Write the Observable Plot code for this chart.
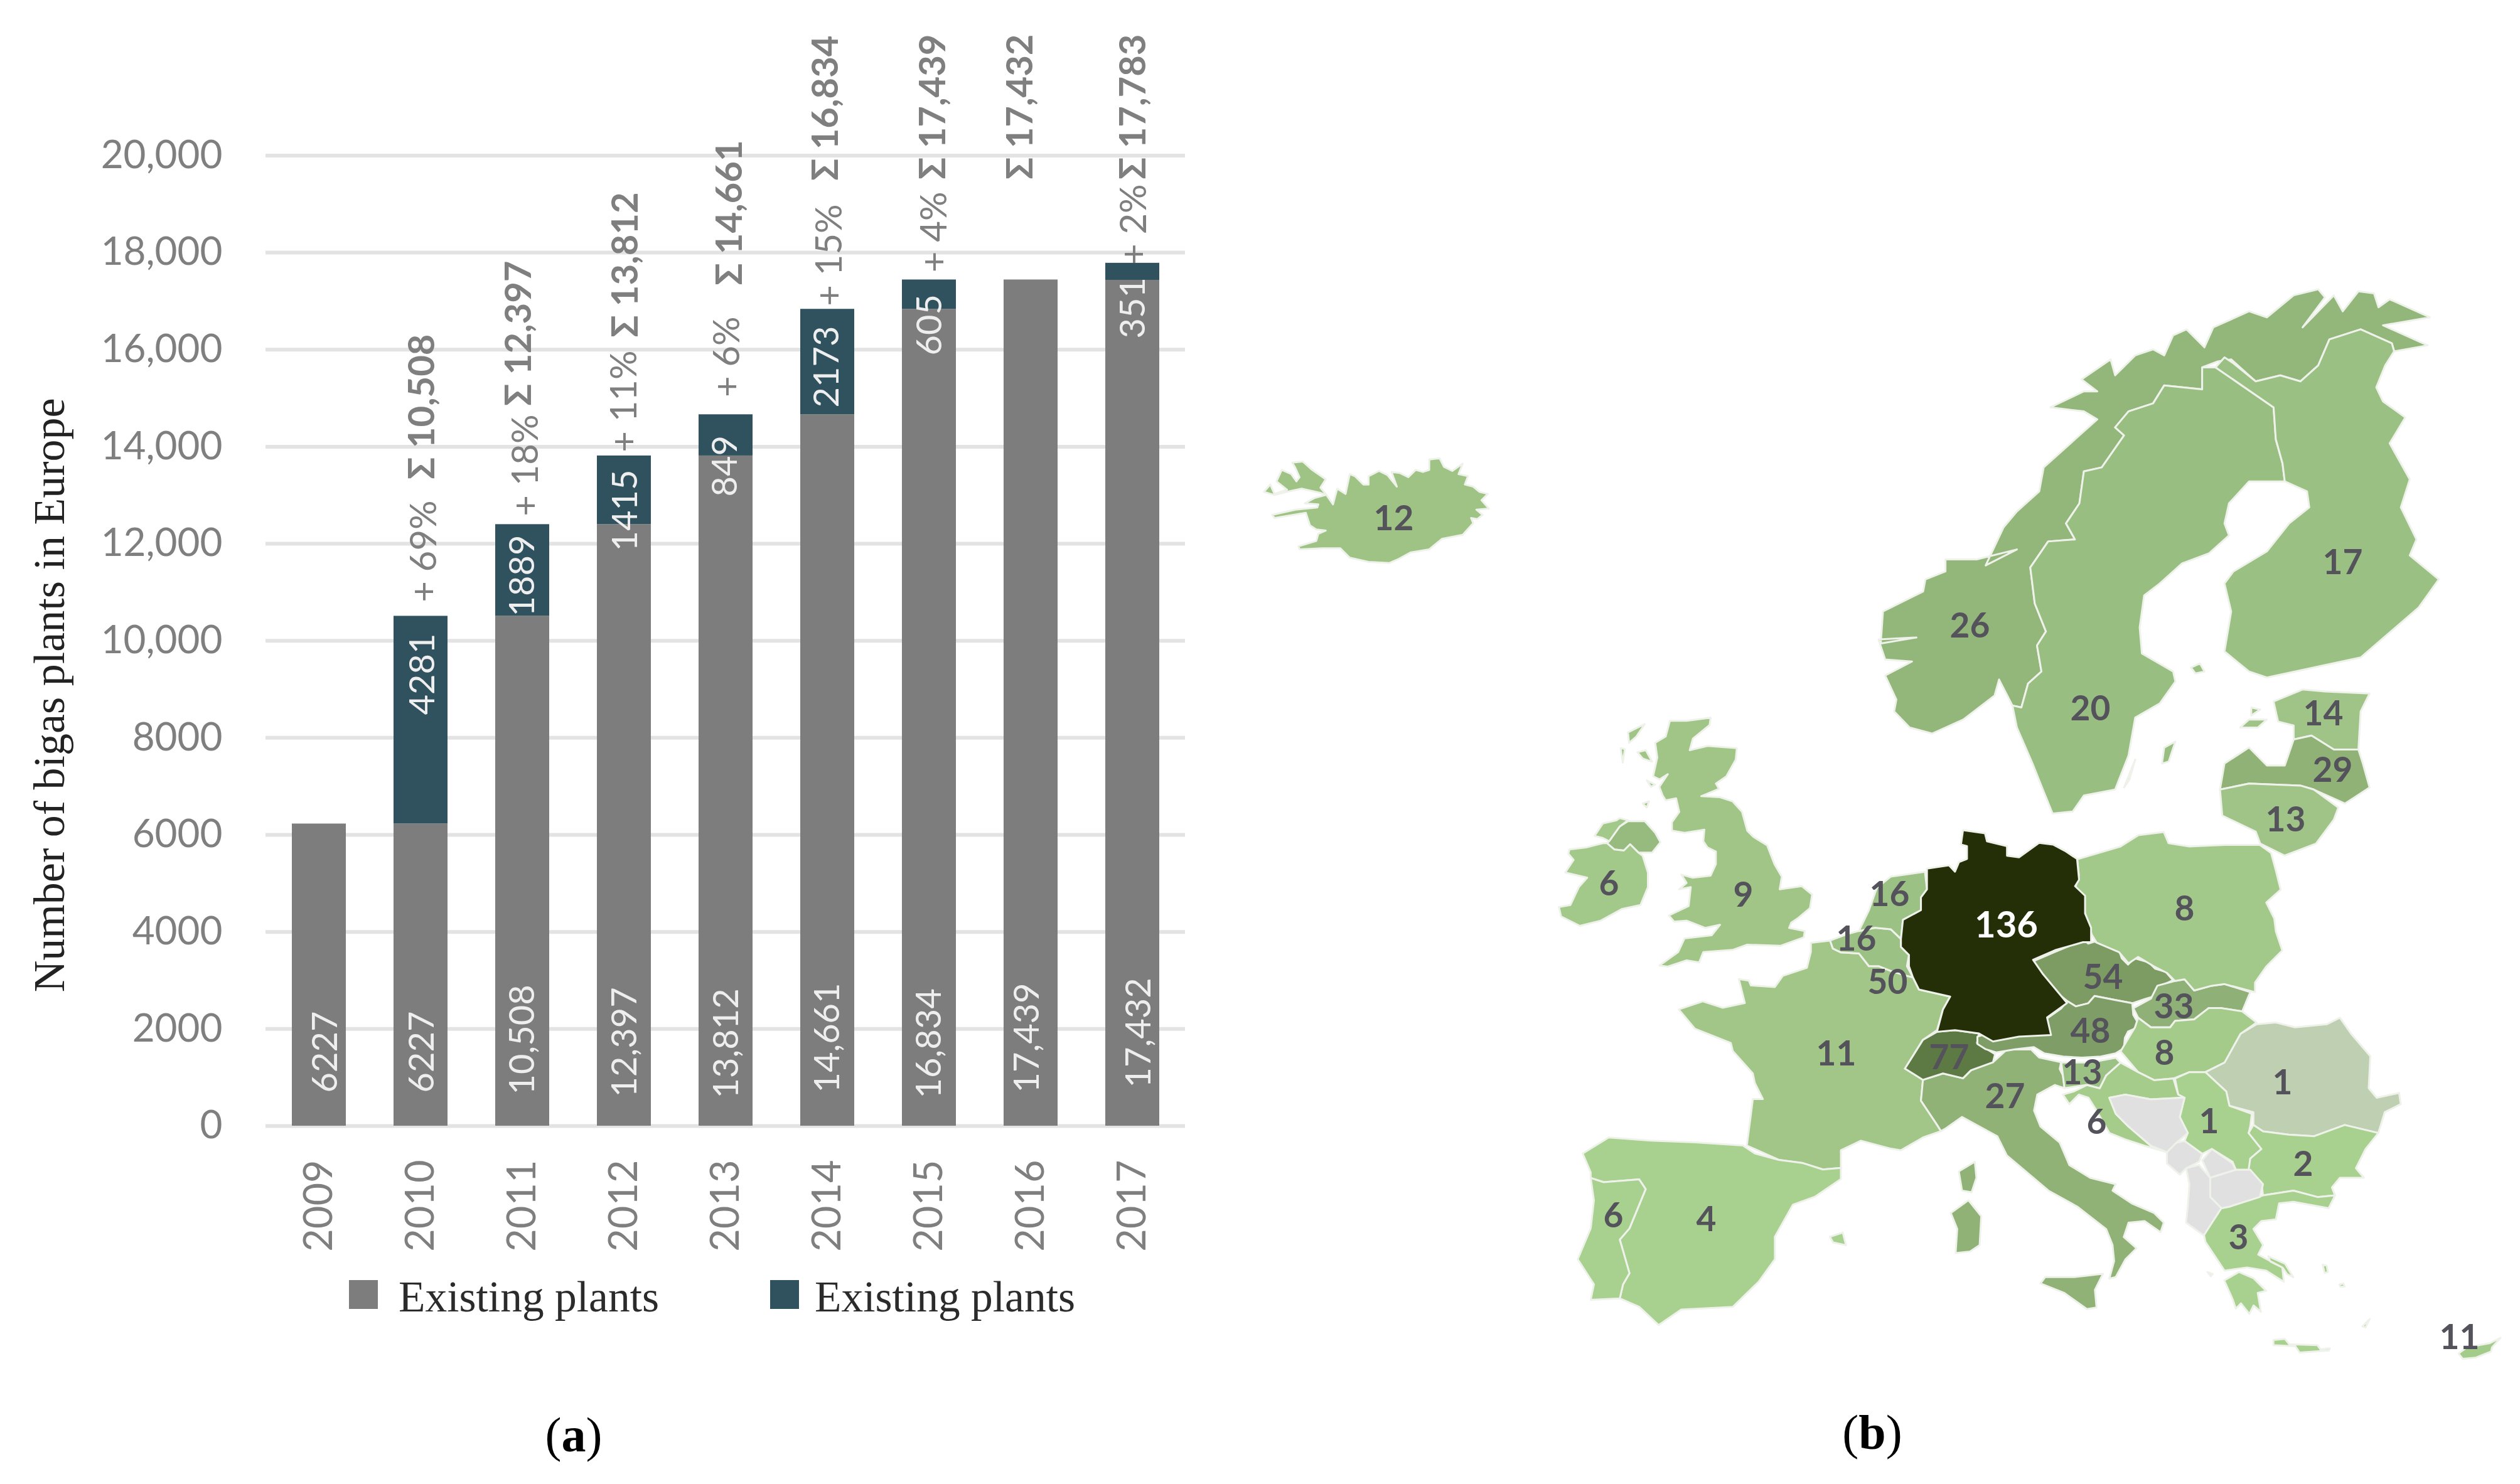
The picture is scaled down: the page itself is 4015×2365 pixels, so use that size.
<!DOCTYPE html>
<html>
<head>
<meta charset="utf-8">
<script src="https://cdn.jsdelivr.net/npm/d3@7"></script>
<script src="https://cdn.jsdelivr.net/npm/@observablehq/plot@0.6"></script>
<style>
html,body{margin:0;padding:0;background:#fff}
#page{position:relative;width:4015px;height:2365px;overflow:hidden;background:#fff}
#bars{position:absolute;left:0;top:0}
#map{position:absolute;left:1950px;top:380px}
.legend{position:absolute;font-family:"Liberation Serif",serif;font-size:69.5px;color:#2b2b2b;line-height:1;white-space:nowrap}
.swatch{position:absolute;width:46px;height:46px}
.cap{position:absolute;font-family:"Liberation Serif",serif;font-size:78px;color:#000;line-height:1;white-space:nowrap;transform:translateX(-50%)}
</style>
</head>
<body>
<div id="page">
  <div id="bars"></div>
  <div id="map"></div>
  <div class="swatch" style="left:556px;top:2040px;background:#7d7d7d"></div>
  <div class="legend" style="left:635px;top:2032px">Existing plants</div>
  <div class="swatch" style="left:1227px;top:2040px;background:#30525f"></div>
  <div class="legend" style="left:1298px;top:2032px">Existing plants</div>
  <div class="cap" style="left:914px;top:2248px">(<b>a</b>)</div>
  <div class="cap" style="left:2983px;top:2244px">(<b>b</b>)</div>
</div>
<script>
// ---------- Bar chart data ----------
const years = ["2009","2010","2011","2012","2013","2014","2015","2016","2017"];
const existing = [6227,6227,10508,12397,13812,14661,16834,17439,17432];
const added = [0,4281,1889,1415,849,2173,605,0,351];
const existingText = ["6227","6227","10,508","12,397","13,812","14,661","16,834","17,439","17,432"];
const addedYears = ["2010","2011","2012","2013","2014","2015","2017"];
const addedText = ["4281","1889","1415","849","2173","605","351"];
const percentText = ["+ 69%","+ 18%","+ 11%","+ 6%","+ 15%","+ 4%","+ 2%"];
const totalYears = ["2010","2011","2012","2013","2014","2015","2016","2017"];
const totalText = ["Σ 10,508","Σ 12,397","Σ 13,812","Σ 14,661","Σ 16,834","Σ 17,439","Σ 17,432","Σ 17,783"];
const yTicks = [0,2000,4000,6000,8000,10000,12000,14000,16000,18000,20000];
const yTickText = ["0","2000","4000","6000","8000","10,000","12,000","14,000","16,000","18,000","20,000"];

// where each label sits, in chart units, and its sideways nudge
const existingAt = [685,685,647,595,569,685,569,685,789];
const existingNudge = [11,3,1,2,2,1,1,-5,11];
const addedAt = [8470,10500,11845,12970,14807,15880,16229];
const addedNudge = [4,1,3,0,0,2,2];
const percentAt = [12893,14664,15983,16682,18997,19255,19411];
const percentNudge = [6,6,1,3,4,9,3];
const totalAt = [16320,17833,19243,20316,22475,22501,22501,22501];
const totalNudge = [3,-5,3,7,-2,7,-16,2];

const stacked = [
  ...years.map((year,i)=>({year,kind:"Existing",value:existing[i]})),
  ...years.map((year,i)=>({year,kind:"Added",value:added[i]}))
];
const label = (x,y,text,dx,o) => Plot.text([0],{x:()=>x,y:()=>y,text:()=>text,dx,rotate:-90,lineAnchor:"middle",...o});
const grey="#7f7f7f", light="#eeeeee";

const bars = Plot.plot({
  width:1950,height:2030,marginLeft:423,marginRight:62,marginTop:247.4,marginBottom:236,
  style:{fontFamily:"Lato, sans-serif",background:"transparent"},
  x:{domain:years,paddingInner:0.47,paddingOuter:0.235,label:null},
  y:{domain:[0,20000],label:null},
  color:{domain:["Existing","Added"],range:["#7d7d7d","#30525f"]},
  marks:[
    Plot.ruleY(yTicks,{stroke:"#e3e3e3",strokeWidth:6}),
    Plot.barY(stacked,{x:"year",y:"value",fill:"kind"}),
    Plot.axisX({tickRotate:-90,tickSize:0,tickPadding:54,fontSize:63,fill:grey,label:null}),
    Plot.axisY({ticks:yTicks,tickFormat:d=>yTickText[yTicks.indexOf(d)],tickSize:0,tickPadding:69,fontSize:62,fill:grey,label:null}),
    Plot.text(["Number of bigas plants in Europe"],{frameAnchor:"left",y:()=>8880,dx:-344,text:d=>d,rotate:-90,lineAnchor:"middle",textAnchor:"middle",fontFamily:"Liberation Serif, serif",fontSize:70,fill:"#222"}),
    ...years.map((y,i)=>label(y,existingAt[i],existingText[i],existingNudge[i],{textAnchor:"start",fontSize:56,fill:light})),
    ...addedYears.map((y,i)=>label(y,addedAt[i],addedText[i],addedNudge[i],{textAnchor:"start",fontSize:56,fill:light})),
    ...addedYears.map((y,i)=>label(y,percentAt[i],percentText[i],percentNudge[i],{textAnchor:"end",fontSize:58,fill:grey})),
    ...totalYears.map((y,i)=>label(y,totalAt[i],totalText[i],totalNudge[i],{textAnchor:"end",fontSize:58,fontWeight:700,fill:grey}))
  ]
});
document.getElementById("bars").append(bars);

// ---------- Map data: outlines ----------
const crop=(x0,y0,kx,ky)=>pts=>pts.map(([x,y])=>[x0+x/kx,y0+y/ky]);
const A=crop(2400,1200,1.568,1.96), B=crop(2900,400,1.406,1.568), C=crop(2400,1600,0.971,2.24),
      D=crop(3100,1300,1.96,1.96), G=crop(3100,1300,3,3), I=crop(1980,680,3,3), U=crop(2440,1120,3,3), S=crop(3500,2000,3,3);

const iceland = I([[100,310],[130,275],[150,320],[210,300],[160,260],[185,205],[230,225],[255,260],[270,240],[250,195],[235,170],[285,165],[330,205],[395,250],[370,290],[395,320],[430,370],[450,295],[490,320],[510,225],[535,235],[575,275],[600,275],[600,235],[650,210],[690,230],[735,285],[710,215],[750,220],[790,240],[825,205],[860,215],[890,205],[890,155],[940,150],[960,190],[1000,210],[1050,175],[1030,225],[1075,235],[1060,275],[1100,285],[1130,310],[1170,320],[1140,350],[1175,390],[1115,395],[1145,420],[1120,440],[1090,435],[1100,460],[1050,515],[950,535],[890,585],[800,600],[745,630],[700,650],[600,645],[510,625],[465,580],[380,580],[270,585],[265,570],[350,545],[360,510],[395,495],[350,490],[320,470],[300,410],[150,435],[140,420],[250,395],[355,385],[360,370],[295,365],[340,340],[395,325],[370,315],[280,295],[210,310],[150,325]]);
const norway = B([[130,970],[215,965],[135,980],[140,900],[230,850],[235,820],[280,800],[280,770],[350,770],[440,745],[370,785],[410,690],[440,650],[490,600],[500,540],[570,470],[620,420],[590,400],[515,390],[590,350],[620,350],[585,320],[650,270],[660,310],[705,260],[745,245],[770,260],[790,210],[820,195],[860,240],[880,190],[960,150],[1000,165],[1060,110],[1115,95],[1130,115],[1080,190],[1150,110],[1170,150],[1205,100],[1240,105],[1250,140],[1275,120],[1365,165],[1260,185],[1360,235],[1285,250],[1280,230],[1210,195],[1140,220],[1115,285],[1075,325],[1030,310],[975,325],[920,270],[890,275],[855,290],[855,345],[770,335],[745,380],[690,400],[660,440],[680,460],[630,540],[590,550],[580,630],[550,680],[570,720],[510,725],[470,790],[480,880],[505,950],[485,985],[495,1050],[465,1080],[450,1140],[430,1135],[400,1070],[390,1110],[320,1170],[250,1205],[200,1190],[165,1150],[170,1120],[145,1060],[205,1025],[145,1020]]);
const sweden = B([[430,1135],[450,1140],[465,1080],[495,1050],[485,985],[505,950],[480,880],[470,790],[510,725],[570,720],[550,680],[580,630],[590,550],[630,540],[680,460],[660,440],[690,400],[745,380],[770,335],[855,345],[855,290],[885,290],[1015,390],[1020,470],[1035,530],[1040,575],[960,575],[915,630],[905,680],[915,710],[870,755],[810,780],[760,830],[725,860],[715,940],[720,1005],[790,1050],[795,1075],[760,1130],[705,1165],[690,1260],[660,1345],[590,1360],[565,1400],[520,1405],[500,1350],[475,1280],[440,1190]]);
const gotland = B([[765,1280],[770,1240],[795,1225],[780,1275]]);
const oland = B([[680,1340],[705,1270],[692,1320]]);
const finland = B([[885,290],[905,265],[925,280],[975,325],[1030,310],[1075,325],[1115,285],[1140,220],[1210,195],[1280,230],[1285,250],[1265,285],[1245,340],[1260,375],[1310,415],[1275,480],[1320,570],[1300,640],[1335,720],[1320,760],[1385,820],[1340,890],[1210,1015],[1000,1065],[960,1050],[905,1000],[920,900],[905,830],[925,800],[1000,750],[1050,680],[1095,640],[1090,600],[1040,575],[1035,530],[1020,470],[1015,390]]);
const aland = B([[830,1040],[850,1030],[860,1050],[840,1055]]);
const estonia = B([[1015,1125],[1080,1095],[1130,1100],[1230,1105],[1210,1150],[1205,1245],[1150,1245],[1100,1210],[1060,1220],[1060,1185],[1025,1175]]);
const saaremaa = B([[940,1190],[960,1170],[1000,1170],[980,1190]]);
const hiiumaa = B([[965,1140],[985,1145],[965,1160]]);
const latvia = B([[895,1345],[905,1280],[960,1240],[1000,1285],[1040,1285],[1060,1220],[1100,1210],[1150,1245],[1205,1245],[1215,1280],[1230,1340],[1175,1380],[1105,1345],[1075,1335],[960,1330]]);
const lithuania = B([[895,1345],[960,1330],[1075,1335],[1105,1345],[1160,1390],[1150,1420],[1110,1480],[1040,1510],[985,1480],[975,1450],[900,1410]]);
const britain = U([[610,1255],[700,1190],[730,1125],[860,1110],[900,1060],[830,1075],[740,1040],[680,1045],[655,1015],[750,970],[760,880],[705,890],[740,860],[715,820],[770,835],[855,825],[880,770],[880,710],[840,690],[820,660],[825,605],[730,620],[670,610],[670,570],[705,520],[690,455],[640,465],[625,440],[610,400],[650,340],[610,365],[580,350],[600,260],[590,190],[640,160],[660,85],[740,85],[855,70],[850,105],[770,170],[755,225],[840,205],[980,215],[975,270],[930,350],[880,385],[895,410],[810,445],[900,450],[960,470],[1005,520],[1030,610],[1060,640],[1125,680],[1160,770],[1195,830],[1185,890],[1290,875],[1340,915],[1330,980],[1270,1030],[1240,1050],[1230,1075],[1305,1090],[1300,1120],[1190,1160],[1030,1155],[960,1180],[820,1190],[800,1240],[740,1230],[650,1260]]);
const lewis = U([[460,140],[540,100],[500,160],[465,190]]);
const uist = U([[425,215],[445,220],[435,285]]);
const skye = U([[505,235],[545,225],[575,280],[530,265]]);
const mull = U([[550,370],[590,390],[570,400]]);
const islay = U([[530,480],[560,470],[550,500]]);
const northIreland = U([[370,660],[420,590],[460,565],[540,565],[590,620],[615,665],[575,715],[510,715],[470,675],[440,705],[395,700],[360,670]]);
const ireland = U([[180,700],[260,690],[340,670],[360,670],[395,700],[440,705],[470,675],[510,715],[530,730],[555,810],[555,880],[520,965],[430,985],[330,1040],[230,1065],[140,1020],[130,975],[185,965],[225,880],[265,835],[160,810],[200,750],[175,720]]);
const donegal = U([[300,635],[340,575],[405,560],[420,550],[460,560],[420,590],[370,660],[340,645]]);
const france = A([[760,592],[808,585],[815,610],[835,622],[880,625],[905,665],[930,665],[960,680],[1000,695],[1015,700],[1030,738],[1108,760],[1090,800],[1075,865],[1040,895],[995,985],[1040,1020],[1035,1085],[1075,1160],[1085,1180],[1040,1200],[985,1240],[960,1235],[885,1210],[835,1240],[835,1295],[790,1300],[740,1280],[680,1270],[600,1225],[610,1130],[615,1080],[640,1080],[620,1030],[615,1000],[565,930],[560,905],[470,860],[430,800],[490,775],[540,795],[595,780],[580,705],[605,710],[610,725],[670,730],[690,695],[750,670],[760,620]]);
const belgium = A([[808,585],[850,565],[880,555],[920,545],[960,550],[985,580],[985,605],[1005,630],[1000,665],[1015,700],[1000,695],[960,680],[930,665],[905,665],[880,625],[835,622],[815,610]]);
const netherlands = A([[880,555],[905,490],[925,420],[960,385],[1045,370],[1050,425],[1035,450],[1035,490],[990,520],[985,580],[960,550],[920,545]]);
const germany = A([[1050,360],[1105,350],[1120,370],[1130,340],[1150,330],[1150,290],[1135,285],[1140,240],[1195,250],[1200,275],[1250,290],[1250,320],[1280,325],[1330,280],[1365,285],[1395,305],[1425,330],[1430,395],[1420,415],[1445,445],[1445,500],[1460,545],[1460,590],[1440,590],[1370,615],[1315,645],[1340,690],[1400,780],[1350,825],[1360,880],[1280,885],[1215,900],[1180,875],[1120,865],[1075,870],[1090,800],[1108,760],[1030,738],[1015,700],[1005,665],[1005,630],[985,605],[985,580],[990,520],[1035,490],[1035,450],[1050,425]]);
const switzerland = A([[995,985],[1040,895],[1075,870],[1120,865],[1180,875],[1175,905],[1220,940],[1215,965],[1160,990],[1140,1015],[1090,1000],[1040,1020]]);
const czechia = G([[415,695],[520,650],[640,600],[655,590],[680,610],[710,600],[830,650],[840,680],[870,710],[900,680],[970,700],[1000,730],[1050,745],[1085,785],[1030,810],[1000,860],[950,875],[890,895],[810,880],[710,860],[680,895],[620,910],[580,885],[500,820],[440,760],[430,710]]);
const austria = G([[150,1055],[180,1045],[230,1060],[240,1045],[330,1040],[420,1020],[495,1040],[480,970],[550,920],[580,885],[620,910],[680,895],[710,860],[810,880],[890,895],[895,950],[915,985],[905,1015],[870,1030],[855,1060],[850,1110],[810,1135],[740,1150],[650,1155],[560,1150],[470,1135],[420,1105],[330,1115],[240,1130],[190,1115],[150,1090]]);
const slovakia = D([[585,600],[640,570],[660,530],[715,515],[745,510],[775,545],[830,530],[870,525],[950,550],[925,610],[860,600],[820,600],[775,635],[715,640],[700,660],[640,660],[600,630]]);
const poland = D([[410,135],[545,95],[600,60],[680,50],[695,85],[760,95],[870,90],[980,90],[1015,115],[1030,170],[1045,230],[1000,270],[1025,320],[1030,360],[1050,420],[1000,470],[965,520],[965,550],[870,525],[830,530],[775,545],[745,510],[715,515],[690,490],[650,470],[600,440],[570,460],[540,425],[470,395],[455,370],[430,290],[405,220],[415,185]]);
const hungary = D([[545,735],[590,660],[600,630],[640,660],[700,660],[715,640],[775,635],[820,600],[860,600],[925,610],[970,645],[920,680],[870,770],[810,800],[760,800],[710,820],[650,825],[600,800]]);
const romania = D([[970,650],[1030,645],[1090,660],[1140,655],[1190,650],[1230,630],[1265,680],[1325,750],[1320,850],[1345,880],[1415,865],[1420,900],[1370,925],[1350,990],[1245,965],[1150,1000],[1070,995],[990,985],[960,965],[960,925],[885,905],[875,860],[810,800],[870,770],[920,680]]);
const serbia = D([[715,820],[760,800],[810,800],[875,860],[885,905],[955,930],[950,970],[945,990],[985,1040],[950,1070],[950,1105],[905,1105],[895,1080],[830,1040],[800,1055],[745,1015],[755,990],[730,940],[745,880],[725,870]]);
const bulgaria = D([[960,965],[990,985],[1070,995],[1150,1000],[1245,965],[1350,990],[1310,1040],[1280,1100],[1305,1130],[1230,1130],[1205,1160],[1215,1185],[1160,1190],[1085,1170],[990,1185],[985,1145],[945,1105],[950,1070],[985,1040],[945,990]]);
const greece = D([[830,1225],[860,1225],[885,1220],[990,1185],[1085,1170],[1160,1190],[1215,1185],[1195,1225],[1085,1205],[1040,1210],[1030,1260],[985,1265],[960,1290],[990,1340],[975,1370],[1050,1410],[1055,1455],[1000,1420],[940,1410],[870,1420],[810,1330],[805,1305],[850,1240]]);
const peloponnese = S([[130,120],[200,80],[270,110],[330,170],[290,180],[305,270],[270,240],[250,280],[210,230],[185,255],[170,210]]);
const crete = S([[365,405],[420,400],[440,425],[575,430],[590,450],[635,445],[630,455],[490,465],[470,435],[365,430]]);
const cyprus = S([[1250,470],[1290,440],[1400,420],[1450,395],[1410,440],[1405,460],[1330,490],[1270,495]]);
const evia = S([[340,5],[420,40],[460,105],[430,90],[410,60],[350,30]]);
const lesbos = S([[600,45],[620,50],[625,80],[610,85]]);
const rhodes = S([[790,340],[825,305],[805,345]]);
const chios = S([[680,140],[700,135],[705,150],[685,150]]);
const lefkada = S([[50,80],[75,90],[65,100]]);
const bosnia = D([[510,880],[560,870],[640,885],[730,880],[745,880],[730,940],[755,990],[720,1020],[690,1050],[640,1030],[570,970],[530,930]]);
const montenegro = D([[690,1050],[720,1020],[745,1015],[800,1055],[790,1080],[750,1100],[730,1120],[690,1085]]);
const kosovo = D([[800,1075],[830,1040],[895,1085],[905,1105],[840,1125],[825,1130]]);
const macedonia = D([[825,1130],[905,1105],[950,1105],[990,1150],[980,1190],[885,1220],[860,1225],[825,1190]]);
const albania = D([[750,1100],[790,1090],[825,1130],[825,1190],[860,1225],[850,1240],[805,1310],[750,1270],[755,1220],[760,1150]]);
const croatia = D([[440,840],[480,850],[500,810],[545,770],[600,800],[650,825],[710,820],[725,870],[745,880],[640,885],[560,870],[510,880],[530,930],[570,970],[640,1030],[690,1050],[620,1030],[560,1010],[510,990],[470,920],[445,880],[415,870],[385,900],[365,870],[400,860]]);
const slovenia = D([[360,770],[450,770],[530,755],[545,770],[500,810],[480,850],[440,840],[370,850],[365,810]]);
const italy = [...A([[1040,1020],[1090,1000],[1140,1015],[1160,990],[1215,965],[1250,925],[1310,925],[1330,950],[1385,965]]),
  ...D([[355,790],[365,810],[370,850],[340,840],[285,870],[275,920],[295,970],[355,1020],[385,1090],[450,1130],[530,1150],[520,1170],[580,1210],[650,1240],[680,1270],[670,1300],[620,1265],[570,1270],[555,1315],[595,1350],[560,1385],[530,1440],[510,1445],[525,1390],[520,1340],[500,1290],[410,1220],[320,1170],[190,1060],[160,1000],[50,940],[0,975]]),
  ...A([[1085,1180],[1075,1160],[1035,1085]])];
const corsica = D([[40,1110],[90,1080],[95,1130],[80,1175],[50,1170]]);
const sardinia = D([[15,1240],[70,1200],[110,1250],[105,1340],[75,1360],[30,1365],[35,1290]]);
const sicily = D([[295,1460],[310,1440],[400,1440],[490,1430],[465,1480],[470,1535],[440,1540],[370,1490]]);
const spain = [...A([[190,1250],[255,1200],[360,1210],[470,1215],[590,1225],[620,1250],[680,1270],[740,1280],[790,1300],[835,1295],[835,1330],[770,1385],[715,1410],[670,1510]]),
  ...C([[415,910],[390,990],[350,1080],[270,1090],[235,1145],[205,1080],[175,1050],[180,1000],[190,960],[175,840],[190,800],[215,660],[205,625],[150,635],[130,620],[130,600]])];
const portugal = C([[130,620],[150,635],[205,625],[215,660],[190,800],[175,840],[190,960],[180,1000],[175,1050],[130,1055],[135,1000],[110,910],[130,800],[135,700]]);
const mallorca = C([[500,830],[520,815],[525,860],[505,850]]);

// Country colours and labels
const mapShapes = [
  [[iceland],"#9ec384"],[[norway],"#93b67a"],[[sweden,gotland,oland],"#99be81"],[[finland,aland],"#9bc083"],
  [[estonia,saaremaa,hiiumaa],"#a0c487"],[[latvia],"#90b277"],[[lithuania],"#a0c487"],
  [[britain,lewis,uist,skye,mull,islay],"#a0c587"],[[northIreland],"#97bb7e"],[[ireland,donegal],"#a3c98a"],
  [[france],"#a1c688"],[[belgium],"#9cc184"],[[netherlands],"#9cc184"],
  [[spain,mallorca],"#a8d08e"],[[portugal],"#a8d08e"],
  [[italy,corsica,sardinia,sicily],"#90b277"],[[switzerland],"#5d7a45"],
  [[czechia],"#7d9c64"],[[austria],"#7f9d66"],[[slovakia],"#8fb076"],[[poland],"#a3c98a"],
  [[hungary],"#a5cb8b"],[[romania],"#bfcfb2"],[[serbia],"#a8d08e"],[[bulgaria],"#a8d08e"],
  [[greece,peloponnese,crete,evia,lesbos,rhodes,chios,lefkada],"#a8d08e"],[[cyprus],"#a3cc8a"],
  [[croatia],"#a6cc8c"],[[slovenia],"#9cc184"],
  [[bosnia],"#e0e0e0"],[[montenegro],"#e0e0e0"],[[kosovo],"#e0e0e0"],[[macedonia],"#e0e0e0"],[[albania],"#e0e0e0"],
  [[germany],"#242f08"]
];
const mapText = ["12","26","20","17","14","29","13","8","16","16","50","6","9","11","54","48","33","77","13","27","8","1","1","6","2","3","6","4","11"];
const mapTextX = [2220,3138,3330,3732,3701,3716,3641,3480,3010,2957,3007,2563,2777,2925,3350,3330,3463,3105,3317,3194,3448,3636,3519,3340,3669,3566,2570,2718,3918];
const mapTextY = [827,998,1130,897,1138,1228,1307,1449,1426,1497,1566,1409,1427,1680,1558,1644,1605,1686,1710,1748,1679,1726,1788,1789,1856,1973,1938,1944,2132];

const closeRing = r => [...r, r[0]];
const features = mapShapes.map(([rings,color]) => ({
  type:"Feature",properties:{color},
  geometry:{type:"MultiPolygon",coordinates:rings.map(r=>[closeRing(r)])}
}));
const labels = mapText.map((text,i)=>({text,x:mapTextX[i],y:mapTextY[i]}));

const mapPlot = Plot.plot({
  width:2065,height:1800,margin:0,
  style:{fontFamily:"Lato, sans-serif",background:"transparent"},
  projection:d3.geoTransform({point(x,y){this.stream.point(x-1950,y-380);}}),
  color:{type:"identity"},
  marks:[
    Plot.geo(features,{fill:d=>d.properties.color,stroke:"#eef2ea",strokeWidth:3,strokeLinejoin:"round"}),
    Plot.text(labels,{x:"x",y:"y",text:"text",fontSize:55,fontWeight:700,fill:"#54525a"}),
    Plot.text([{text:"136",x:3196,y:1475}],{x:"x",y:"y",text:"text",fontSize:58,fontWeight:700,fill:"#ffffff"})
  ]
});
document.getElementById("map").append(mapPlot);
</script>
</body>
</html>
